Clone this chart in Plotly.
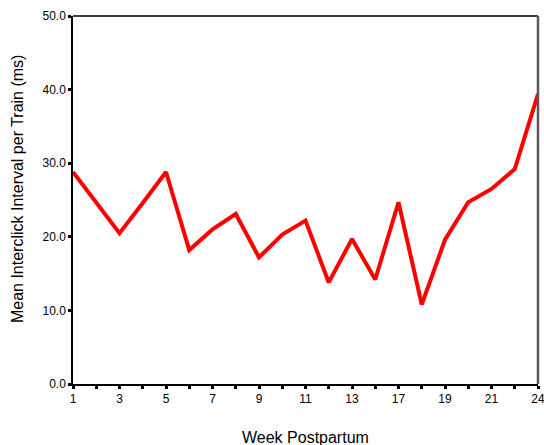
import plotly.graph_objects as go

# Weeks with recordings (categorical axis, every other label shown)
weeks = ["1", "2", "3", "4", "5", "6", "7", "8", "9", "10", "11", "12", "13",
         "15", "17", "18", "19", "20", "21", "22", "24"]
interval_ms = [28.8, 24.6, 20.5, 24.6, 28.8, 18.2, 21.0, 23.1, 17.2, 20.3, 22.2,
               13.8, 19.7, 14.2, 24.7, 10.8, 19.6, 24.7, 26.5, 29.2, 39.4]
shown_labels = ["1", "3", "5", "7", "9", "11", "13", "17", "19", "21", "24"]
tick_text = [w if w in shown_labels else "" for w in weeks]

FONT = "Liberation Sans, Arial, sans-serif"

fig = go.Figure()
fig.add_trace(go.Scatter(
    x=weeks, y=interval_ms, mode="lines",
    line=dict(color="#ff0000", width=4),
    hoverinfo="skip", showlegend=False,
))

fig.update_layout(
    width=544, height=445,
    margin=dict(l=73, r=6, t=16, b=61),
    paper_bgcolor="white", plot_bgcolor="white",
    font=dict(family=FONT, size=12, color="black"),
    xaxis=dict(
        type="category", categoryorder="array", categoryarray=weeks,
        range=[0, len(weeks) - 1], automargin=False,
        tickmode="array", tickvals=weeks, ticktext=tick_text,
        ticks="outside", ticklen=3, tickwidth=3, tickcolor="black",
        showline=True, linecolor="black", linewidth=1.5,
        showgrid=False, zeroline=False,
        tickfont=dict(size=12, family=FONT),
    ),
    yaxis=dict(
        range=[0, 50], dtick=10, tickformat=".1f", automargin=False,
        ticks="outside", ticklen=3, tickwidth=2.5, tickcolor="black",
        showline=True, linecolor="black", linewidth=1.5,
        showgrid=False, zeroline=False,
        tickfont=dict(size=12, family=FONT),
    ),
    shapes=[
        # top frame line
        dict(type="line", xref="paper", yref="paper", x0=0, x1=1, y0=1, y1=1,
             line=dict(color="black", width=1.5)),
        # right frame line
        dict(type="line", xref="paper", yref="paper", x0=1, x1=1, y0=0, y1=1,
             line=dict(color="#5a5a5a", width=2.5)),
    ],
    annotations=[
        dict(text="Mean Interclick Interval per Train (ms)", xref="paper", yref="paper",
             x=-0.118, y=0.53, xanchor="center", yanchor="middle", textangle=-90,
             showarrow=False, font=dict(size=16, family=FONT)),
        dict(text="Week Postpartum", xref="paper", yref="paper",
             x=0.5, y=-0.118, xanchor="center", yanchor="top",
             showarrow=False, font=dict(size=16, family=FONT)),
    ],
)

fig.write_html("out.html")
